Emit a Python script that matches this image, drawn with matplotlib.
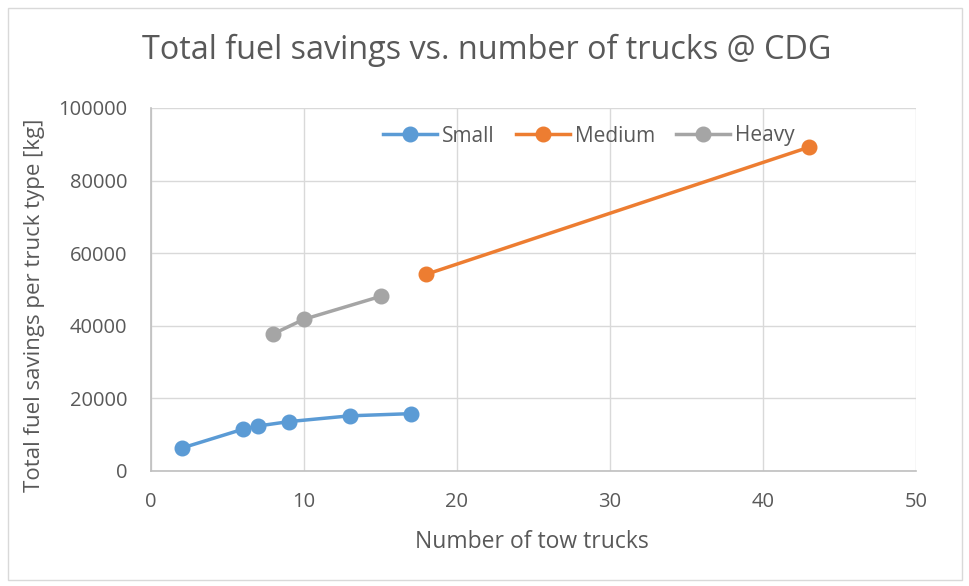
import matplotlib.pyplot as plt
from matplotlib.patches import Rectangle

# values
small_x = [2, 6, 7, 9, 13, 17]
small_y = [6300, 11500, 12400, 13600, 15200, 15800]
medium_x = [18, 43]
medium_y = [54200, 89200]
heavy_x = [8, 10, 15]
heavy_y = [37800, 41800, 48100]

xticks = [0, 10, 20, 30, 40, 50]
yticks = [0, 20000, 40000, 60000, 80000, 100000]

TXT = "#595959"
GRID = "#D9D9D9"
W, H = 969, 586
plt.rcParams['font.family'] = ['Open Sans', 'DejaVu Sans']

fig = plt.figure(figsize=(W / 100, H / 100), dpi=100)
fig.patches.append(Rectangle((8 / W, 1 - 580 / H), 954 / W, 572 / H,
                             transform=fig.transFigure, fill=False,
                             edgecolor="#D9D9D9", linewidth=1))
ax = fig.add_axes([151 / W, 1 - 471 / H, 765 / W, 363 / H])

ms = 10.5
lw = 2.5
ax.plot(small_x, small_y, color="#5B9BD5", marker="o", markersize=ms, linewidth=lw, label="Small", zorder=3)
ax.plot(medium_x, medium_y, color="#ED7D31", marker="o", markersize=ms, linewidth=lw, label="Medium", zorder=3)
ax.plot(heavy_x, heavy_y, color="#A5A5A5", marker="o", markersize=ms, linewidth=lw, label="Heavy", zorder=3)

ax.set_xlim(0, 50)
ax.set_ylim(0, 100000)
ax.set_xticks(xticks)
ax.set_yticks(yticks)
ax.grid(True, color=GRID, linewidth=1)
ax.set_axisbelow(True)
for s in ["top", "right"]:
    ax.spines[s].set_visible(False)
for s in ["left", "bottom"]:
    ax.spines[s].set_color("#BFBFBF")
    ax.spines[s].set_linewidth(1.2)
ax.tick_params(length=0, colors=TXT, labelsize=14.5)
ax.tick_params(axis="y", pad=17)
ax.tick_params(axis="x", pad=15)

fig.text(532 / W, 1 - 542 / H, "Number of tow trucks", ha="center", va="center",
         color=TXT, fontsize=16.5)
fig.text(35 / W, 1 - 305 / H, "Total fuel savings per truck type [kg]", ha="center",
         va="center", rotation=90, color=TXT, fontsize=16)
fig.text(487 / W, 1 - 50 / H, "Total fuel savings vs. number of trucks @ CDG",
         ha="center", va="center", color=TXT, fontsize=23.3)

leg = ax.legend(loc="center", bbox_to_anchor=(589 / W, 1 - 136 / H), bbox_transform=fig.transFigure,
                ncol=3, frameon=False, fontsize=15, handlelength=2.6, columnspacing=1.0,
                handletextpad=0.25, labelcolor=TXT, borderpad=0)

fig.savefig("out.png", dpi=100)
